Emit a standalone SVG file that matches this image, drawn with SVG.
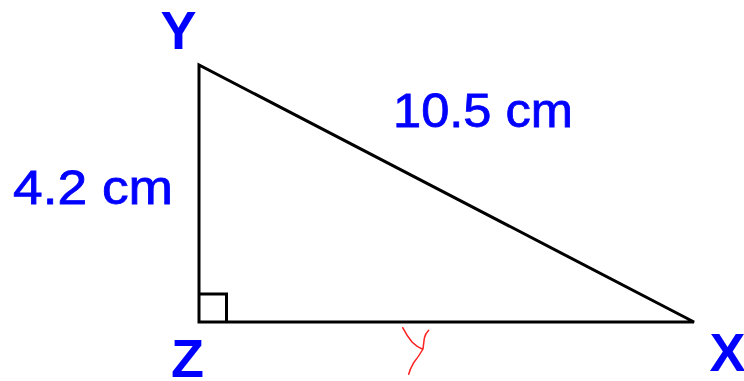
<svg xmlns="http://www.w3.org/2000/svg" width="744" height="381" viewBox="0 0 744 381">
<style>
.edge{fill:none;stroke:#000;stroke-width:3;stroke-linejoin:miter}
.vlab{font-family:"Liberation Sans",Arial,sans-serif;font-weight:bold;font-size:54px;fill:#0000ff;text-anchor:middle}
.mlab{font-family:"Liberation Sans",Arial,sans-serif;font-size:48px;fill:#0000ff;stroke:#0000ff;stroke-width:0.8}
.tick{fill:none;stroke:#ff2020;stroke-width:1.5;stroke-linecap:round;stroke-linejoin:round}
</style>
<rect width="744" height="381" fill="#fff"/>
<g id="connectors">
<polygon class="edge" points="199,65 199,322 694,322"/>
<polyline class="edge" points="199,294 226.5,294 226.5,322"/>
<path class="tick" d="M402.7,327.7 Q407,336 412,342 Q417,347 422.7,349.3 M428.7,330.3 Q425,334 424.3,338.3 L423,349 Q419,356 413.3,363.3 Q410,369 408.7,374.3"/>
</g>
<g id="node-Y"><text class="vlab" x="178.5" y="49">Y</text></g>
<g id="node-Z"><text class="vlab" x="187.5" y="377" font-size="52">Z</text></g>
<g id="node-X"><text class="vlab" x="727.5" y="371">X</text></g>
<g id="label-hyp"><text class="mlab" x="393" y="127" textLength="180" lengthAdjust="spacingAndGlyphs">10.5 cm</text></g>
<g id="label-leg"><text class="mlab" x="13" y="204" textLength="160" lengthAdjust="spacingAndGlyphs">4.2 cm</text></g>
</svg>
